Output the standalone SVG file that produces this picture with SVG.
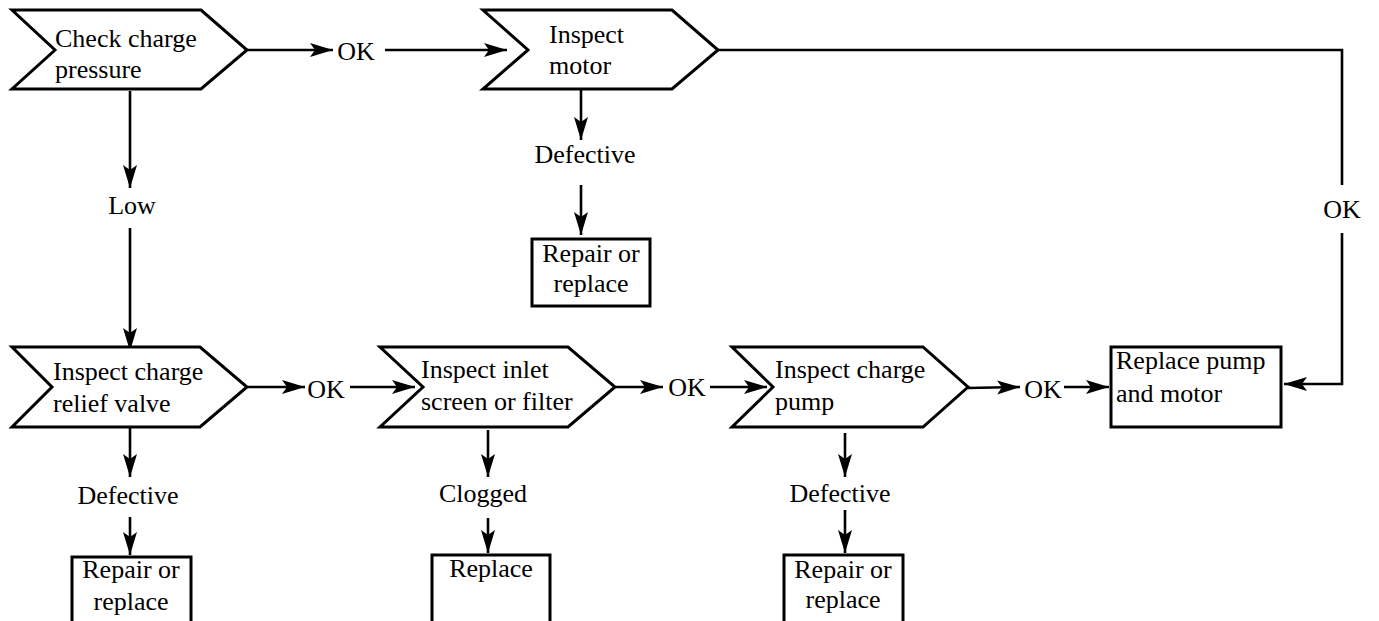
<svg xmlns="http://www.w3.org/2000/svg" width="1379" height="621" viewBox="0 0 1379 621">
<defs>
<marker id="ah" markerUnits="userSpaceOnUse" markerWidth="24" markerHeight="16" refX="23" refY="7.5" orient="auto">
<path d="M0,0.5 L23,7.5 L0,14.5 L5,7.5 Z" fill="#000"/>
</marker>
<style>
.shape{fill:#fff;stroke:#000;stroke-width:3;stroke-linejoin:miter}
text{font-family:'Liberation Serif',Tinos,'Times New Roman',Times,serif;font-size:26px;fill:#000}
.c{text-anchor:middle}
.conn line,.conn polyline{stroke:#000;stroke-width:2.6;fill:none}
.arr{marker-end:url(#ah)}
</style>
</defs>
<rect width="1379" height="621" fill="#fff"/>
<g id="connectors" class="conn">
<line class="arr" x1="247" y1="50" x2="333" y2="50"/>
<line class="arr" x1="385" y1="50" x2="507" y2="50"/>
<polyline points="718,50 1342,50 1342,185"/>
<polyline class="arr" points="1342,233 1342,384 1284,384"/>
<line class="arr" x1="581" y1="89" x2="581" y2="140"/>
<line class="arr" x1="581" y1="185" x2="581" y2="235"/>
<line class="arr" x1="130" y1="91" x2="130" y2="188"/>
<line class="arr" x1="130" y1="228" x2="130" y2="351"/>
<line class="arr" x1="248" y1="387" x2="305" y2="387"/>
<line class="arr" x1="350" y1="387" x2="415" y2="387"/>
<line class="arr" x1="130" y1="427" x2="130" y2="477"/>
<line class="arr" x1="130" y1="517" x2="130" y2="555"/>
<line class="arr" x1="616" y1="387" x2="663" y2="387"/>
<line class="arr" x1="710" y1="387" x2="767" y2="387"/>
<line class="arr" x1="488" y1="430" x2="488" y2="477"/>
<line class="arr" x1="488" y1="518" x2="488" y2="553"/>
<line class="arr" x1="968" y1="388" x2="1020" y2="387"/>
<line class="arr" x1="1064" y1="387" x2="1109" y2="387"/>
<line class="arr" x1="845" y1="433" x2="845" y2="477"/>
<line class="arr" x1="845" y1="510" x2="845" y2="553"/>
</g>
<g id="labels">
<text class="c" x="356" y="60">OK</text>
<text class="c" x="132" y="214">Low</text>
<text class="c" x="585" y="163">Defective</text>
<text class="c" x="1342" y="218">OK</text>
<text class="c" x="326" y="398">OK</text>
<text class="c" x="687" y="396">OK</text>
<text class="c" x="1043" y="398">OK</text>
<text class="c" x="128" y="504">Defective</text>
<text class="c" x="483" y="502">Clogged</text>
<text class="c" x="840" y="502">Defective</text>
</g>
<g id="check-charge-pressure">
<polygon class="shape" points="12,10 201,10 247,50 201,89 12,89 55,50"/>
<text x="55" y="47">Check charge</text>
<text x="55" y="78">pressure</text>
</g>
<g id="inspect-motor">
<polygon class="shape" points="483,10 672,10 718,50 672,89 483,89 528,50"/>
<text x="549" y="43">Inspect</text>
<text x="549" y="74">motor</text>
</g>
<g id="repair-motor">
<rect class="shape" x="532" y="239" width="118" height="67"/>
<text class="c" x="591" y="262">Repair or</text>
<text class="c" x="591" y="292">replace</text>
</g>
<g id="inspect-relief-valve">
<polygon class="shape" points="12,347 200,347 247,387 200,427 12,427 52,387"/>
<text x="53" y="380">Inspect charge</text>
<text x="53" y="412">relief valve</text>
</g>
<g id="repair-relief-valve">
<rect class="shape" x="72" y="557" width="119" height="80"/>
<text class="c" x="131" y="578">Repair or</text>
<text class="c" x="131" y="610">replace</text>
</g>
<g id="inspect-inlet">
<polygon class="shape" points="380,347 568,347 615,387 568,427 380,427 423,387"/>
<text x="421" y="378">Inspect inlet</text>
<text x="421" y="410">screen or filter</text>
</g>
<g id="replace-inlet">
<rect class="shape" x="432" y="555" width="118" height="80"/>
<text class="c" x="491" y="577">Replace</text>
</g>
<g id="inspect-charge-pump">
<polygon class="shape" points="732,347 923,347 968,387 923,427 732,427 773,387"/>
<text x="775" y="378">Inspect charge</text>
<text x="775" y="410">pump</text>
</g>
<g id="repair-charge-pump">
<rect class="shape" x="784" y="555" width="119" height="80"/>
<text class="c" x="843" y="578">Repair or</text>
<text class="c" x="843" y="608">replace</text>
</g>
<g id="replace-pump-motor">
<rect class="shape" x="1111" y="347" width="170" height="80"/>
<text x="1116" y="369">Replace pump</text>
<text x="1116" y="402">and motor</text>
</g>
</svg>
